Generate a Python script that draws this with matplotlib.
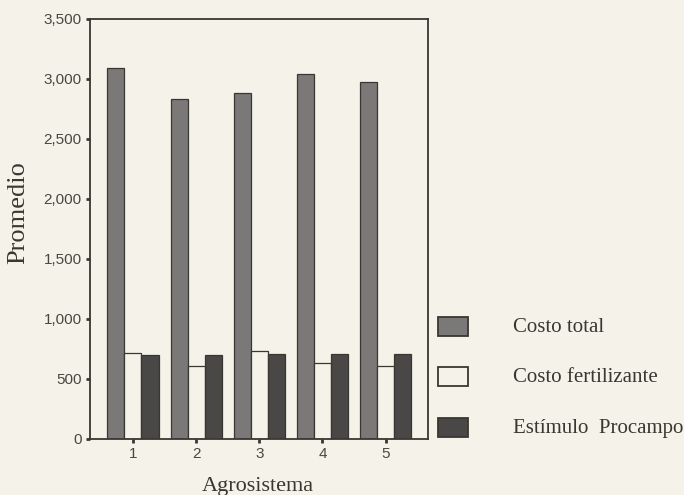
import matplotlib
matplotlib.use('Agg')
import matplotlib.pyplot as plt
import numpy as np
from matplotlib.patches import Rectangle
from matplotlib.ticker import FuncFormatter

# average per agrosystem
agrosistemas = [1, 2, 3, 4, 5]
costo_total = [3090, 2830, 2880, 3040, 2975]
costo_fertilizante = [720, 610, 735, 630, 605]
estimulo_procampo = [700, 700, 708, 708, 712]
series_labels = ['Costo total', 'Costo fertilizante', 'Estímulo  Procampo']

W, H = 684, 495
bg = '#f5f2ea'
ink = '#3a3630'
fills = ['#7b7977', bg, '#4a4846']

fig = plt.figure(figsize=(W / 100, H / 100), dpi=100, facecolor=bg)
ax = fig.add_axes([90 / W, 1 - 439 / H, 338 / W, 420 / H])
ax.set_facecolor(bg)

x = np.array(agrosistemas, dtype=float)
w = 0.27
for i, vals in enumerate([costo_total, costo_fertilizante, estimulo_procampo]):
    ax.bar(x + (i - 1) * w, vals, width=w, color=fills[i],
           edgecolor=ink, linewidth=0.9)

ax.set_xlim(0.32, 5.67)
ax.set_ylim(0, 3500)
ax.set_yticks(np.arange(0, 3501, 500))
ax.yaxis.set_major_formatter(FuncFormatter(lambda v, p: f'{int(v):,}'))
ax.set_xticks(x)
ax.set_xticklabels([str(a) for a in agrosistemas])

for s in ax.spines.values():
    s.set_color(ink)
    s.set_linewidth(1.3)
ax.tick_params(colors=ink, labelcolor='#4a4640', labelsize=11, width=2,
               length=3, pad=3)
for lab in ax.get_xticklabels() + ax.get_yticklabels():
    lab.set_family('Liberation Sans')

fig.text(18 / W, 1 - 213 / H, 'Promedio', family='Liberation Serif',
         fontsize=19, color=ink, rotation=90, ha='center', va='center')
fig.text(258 / W, 1 - 487 / H, 'Agrosistema', family='Liberation Serif',
         fontsize=16, color=ink, ha='center', va='center')

# legend drawn by hand at the right of the plot
for i, lab in enumerate(series_labels):
    yc = 326 + i * 50.5
    fig.add_artist(Rectangle((438 / W, 1 - (yc + 9.5) / H), 30 / W, 19 / H,
                             transform=fig.transFigure, facecolor=fills[i],
                             edgecolor=ink, linewidth=1.3))
    fig.text(513 / W, 1 - (yc + 1) / H, lab, family='Liberation Serif',
             fontsize=15, color=ink, ha='left', va='center')

fig.savefig('out.png', dpi=100, facecolor=bg)
